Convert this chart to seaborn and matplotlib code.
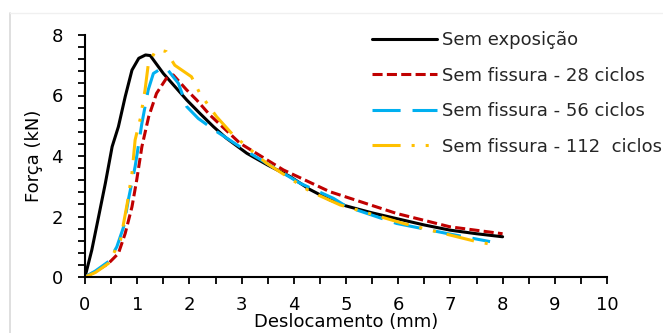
import matplotlib
matplotlib.use("Agg")
import matplotlib.pyplot as plt
from matplotlib.ticker import MultipleLocator
from matplotlib.lines import Line2D
import seaborn as sns
import pandas as pd

# ---- data ----
labels = ["Sem exposição", "Sem fissura - 28 ciclos", "Sem fissura - 56 ciclos", "Sem fissura - 112  ciclos"]

x_sem = [0, 0.13, 0.26, 0.39, 0.52, 0.64, 0.77, 0.90, 1.03, 1.16, 1.25, 1.5, 1.95, 2.2, 2.46, 2.7,
         3.1, 3.5, 3.93, 4.3, 4.69, 5.0, 5.5, 5.97, 6.5, 6.99, 7.5, 8.0]
y_sem = [0, 0.89, 1.99, 3.1, 4.31, 4.97, 5.96, 6.84, 7.23, 7.34, 7.32, 6.73, 5.85, 5.41, 4.97, 4.6,
         4.09, 3.7, 3.32, 2.9, 2.55, 2.35, 2.12, 1.93, 1.72, 1.55, 1.43, 1.33]

x_28 = [0, 0.2, 0.45, 0.64, 0.77, 0.90, 0.99, 1.09, 1.22, 1.37, 1.56, 1.69, 1.95, 2.14, 2.39, 2.97,
        3.8, 4.69, 5.97, 6.99, 8.0]
y_28 = [0, 0.18, 0.45, 0.78, 1.44, 2.32, 3.2, 4.31, 5.3, 6.07, 6.57, 6.68, 6.18, 5.85, 5.36, 4.42,
        3.54, 2.82, 2.1, 1.66, 1.43]

x_56 = [0, 0.2, 0.45, 0.61, 0.74, 0.83, 0.96, 1.09, 1.21, 1.31, 1.45, 1.56, 1.79, 1.95, 2.17, 2.52,
        3.16, 4.12, 4.76, 5.01, 5.97, 6.93, 7.76]
y_56 = [0, 0.2, 0.51, 1.0, 1.66, 2.55, 3.65, 5.08, 6.18, 6.73, 6.88, 6.9, 6.4, 5.63, 5.24, 4.81,
        4.09, 3.1, 2.6, 2.33, 1.77, 1.44, 1.17]

x_112 = [0, 0.2, 0.45, 0.68, 0.81, 0.90, 0.96, 1.06, 1.15, 1.21, 1.34, 1.45, 1.56, 1.72, 2.04, 2.2,
         2.52, 2.84, 3.48, 4.31, 4.89, 6.1, 7.5, 7.85]
y_112 = [0, 0.15, 0.45, 1.22, 2.44, 3.43, 4.53, 5.24, 6.18, 7.0, 7.45, 7.5, 7.45, 7.0, 6.62, 6.07,
         5.3, 4.69, 3.76, 2.83, 2.38, 1.77, 1.17, 1.06]

series_x = [x_sem, x_28, x_56, x_112]
series_y = [y_sem, y_28, y_56, y_112]

x_label = "Deslocamento (mm)"
y_label = "Força (kN)"

# ---- styles ----
colors = ["#000000", "#C00000", "#00B0F0", "#FFC000"]
styles = ["-", (0, (3.3, 1.4)), (0, (9.2, 3.9)), (0, (9.2, 3.6, 1, 3.6, 1, 3.6))]
LW = 2.2

sns.set_theme(style="white")
plt.rcParams["font.family"] = ["Liberation Sans Narrow", "DejaVu Sans"]

fig = plt.figure(figsize=(6.63, 3.33), dpi=100)
ax = fig.add_axes([85 / 663, 1 - 277 / 333, (607 - 85) / 663, (277 - 35) / 333])

for xs, ys, lab, c, ls in zip(series_x, series_y, labels, colors, styles):
    df = pd.DataFrame({"x": xs, "y": ys})
    sns.lineplot(data=df, x="x", y="y", ax=ax, color=c, linewidth=LW, linestyle=ls,
                 estimator=None, sort=False, label=lab, dash_capstyle="butt")

ax.set_xlim(0, 10)
ax.set_ylim(0, 8)
ax.xaxis.set_major_locator(MultipleLocator(1))
ax.xaxis.set_minor_locator(MultipleLocator(0.5))
ax.yaxis.set_major_locator(MultipleLocator(2))
ax.yaxis.set_minor_locator(MultipleLocator(0.4))

for s in ["top", "right"]:
    ax.spines[s].set_visible(False)
for s in ["left", "bottom"]:
    ax.spines[s].set_color("black")
    ax.spines[s].set_linewidth(1.5)

ax.tick_params(axis="both", which="both", direction="out", length=5, width=1.3, color="black",
               bottom=True, left=True)
ax.tick_params(axis="x", which="major", labelsize=13, pad=9, colors="black")
ax.tick_params(axis="y", which="major", labelsize=13, pad=11, colors="black")
ax.grid(False)

ax.set_xlabel(x_label, fontsize=13, color="black")
ax.set_ylabel(y_label, fontsize=13, color="black")
ax.xaxis.set_label_coords(0.5, -0.148)
ax.yaxis.set_label_coords(-0.08, 0.5)

leg = ax.legend(loc="upper left", bbox_to_anchor=(372 / 663, 1 - 31 / 333),
                bbox_transform=fig.transFigure, frameon=False, fontsize=13,
                handlelength=3.6, handletextpad=0.3, labelspacing=0.97,
                borderpad=0, borderaxespad=0)

# faint chart-area border
fig.add_artist(Line2D([10 / 663, 10 / 663], [0, 1 - 13 / 333], transform=fig.transFigure,
                      color="#d9d9d9", linewidth=1.2))
fig.add_artist(Line2D([10 / 663, 1], [1 - 13 / 333, 1 - 13 / 333], transform=fig.transFigure,
                      color="#f0f0f0", linewidth=1.0))

fig.savefig("out.png", dpi=100)
